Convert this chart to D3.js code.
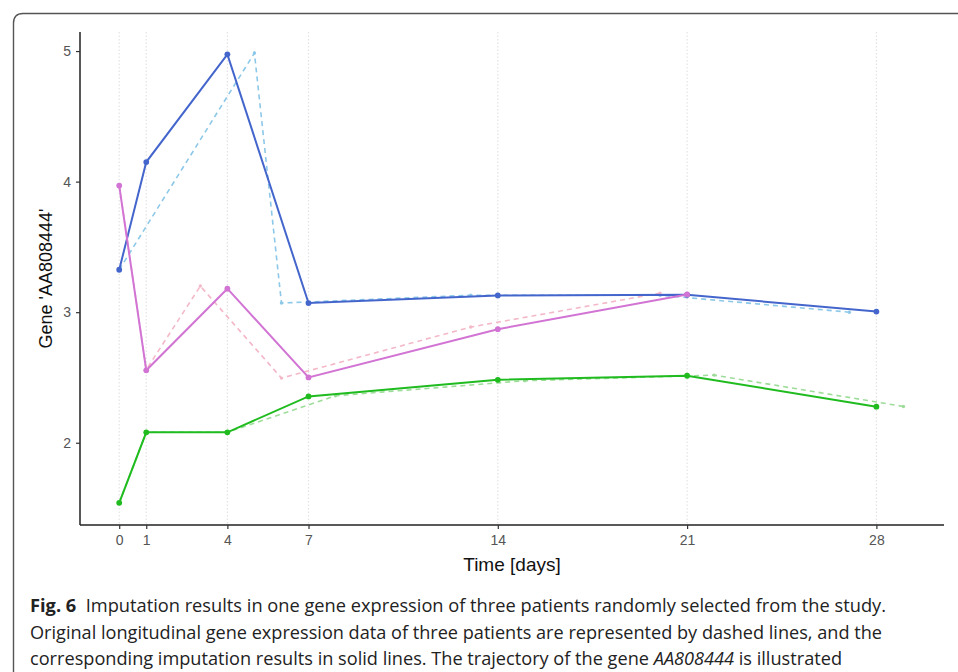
<!DOCTYPE html>
<html>
<head>
<meta charset="utf-8">
<script src="https://cdn.jsdelivr.net/npm/d3@7"></script>
<style>
  body { margin: 0; background: #fff; }
  svg { display: block; }
</style>
</head>
<body>
<div id="viz-area"></div>
<script>
// time points of the imputed (solid) trajectories
const days = [0, 1, 4, 7, 14, 21, 28];
const yTicks = [2, 3, 4, 5];

// imputation results (solid lines)
const blueImputed  = [3.325, 4.15, 4.975, 3.07, 3.128, 3.133, 3.005];
const pinkImputed  = [3.97, 2.555, 3.18, 2.50, 2.87, 3.136];      // up to day 21
const greenImputed = [1.54, 2.08, 2.08, 2.355, 2.482, 2.513, 2.276];

// original observations (dashed lines), irregular days
const blueObsDays  = [0, 5, 6, 13, 20, 27];
const blueObs      = [3.325, 4.985, 3.07, 3.13, 3.13, 3.0];
const pinkObsDays  = [0, 1, 3, 6, 13, 20];
const pinkObs      = [3.97, 2.56, 3.2, 2.495, 2.886, 3.146];
const greenObsDays = [0, 1, 4, 8, 15, 22, 29];
const greenObs     = [1.54, 2.08, 2.08, 2.36, 2.475, 2.518, 2.278];

const captionLines = [
  [{t: "Fig. 6", b: true}, {t: "  Imputation results in one gene expression of three patients randomly selected from the study."}],
  [{t: "Original longitudinal gene expression data of three patients are represented by dashed lines, and the"}],
  [{t: "corresponding imputation results in solid lines. The trajectory of the gene "}, {t: "AA808444", i: true}, {t: " is illustrated"}]
];

const W = 958, H = 672;
const PLOT = {LEFT: 80, RIGHT: 944, TOP: 32, BOTTOM: 525};

const svg = d3.select("#viz-area").append("svg")
  .attr("width", W).attr("height", H);

// figure frame (left + top border, rounded corner)
svg.append("path")
  .attr("d", "M13.5,672 L13.5,23 Q13.5,13.5 23,13.5 L958,13.5")
  .attr("fill", "none").attr("stroke", "#555").attr("stroke-width", 1.4);

const x = d3.scaleLinear().domain([-1.45, 30.5]).range([PLOT.LEFT, PLOT.RIGHT]);
const y = d3.scaleLinear().domain([1.37, 5.146]).range([PLOT.BOTTOM, PLOT.TOP]);

// dotted vertical guides at the sampling days
svg.append("g").selectAll("line")
  .data(days).enter().append("line")
  .attr("x1", d => x(d)).attr("x2", d => x(d))
  .attr("y1", PLOT.TOP).attr("y2", PLOT.BOTTOM)
  .attr("stroke", "#e3e3e3").attr("stroke-width", 1.2)
  .attr("stroke-dasharray", "1.5,2");

const line = d3.line().x(d => x(d[0])).y(d => y(d[1]));

function series(g, xs, ys, color, dashed) {
  const pts = xs.map((d, i) => [d, ys[i]]);
  g.append("path")
    .datum(pts)
    .attr("d", line)
    .attr("fill", "none")
    .attr("stroke", color)
    .attr("stroke-width", dashed ? 1.6 : 2)
    .attr("stroke-dasharray", dashed ? "5,4" : null);
  g.selectAll("circle.p").data(pts).enter().append("circle")
    .attr("cx", d => x(d[0])).attr("cy", d => y(d[1]))
    .attr("r", dashed ? 1.7 : 2.9)
    .attr("fill", color);
}

const dashG = svg.append("g");
series(dashG.append("g"), blueObsDays, blueObs, "#8cc8e8", true);
series(dashG.append("g"), pinkObsDays, pinkObs, "#f3b9c9", true);
series(dashG.append("g"), greenObsDays, greenObs, "#9edc9a", true);

const solidG = svg.append("g");
series(solidG.append("g"), days, blueImputed, "#4466cc", false);
series(solidG.append("g"), days.slice(0, pinkImputed.length), pinkImputed, "#d274d4", false);
series(solidG.append("g"), days, greenImputed, "#1fbb1f", false);

// axes
const xAxis = svg.append("g")
  .attr("transform", `translate(0,${PLOT.BOTTOM})`)
  .call(d3.axisBottom(x).tickValues(days).tickSize(4).tickSizeOuter(0).tickPadding(6));
const yAxis = svg.append("g")
  .attr("transform", `translate(${PLOT.LEFT},0)`)
  .call(d3.axisLeft(y).tickValues(yTicks).tickSize(4).tickSizeOuter(0).tickPadding(5).tickFormat(d3.format("d")));
[xAxis, yAxis].forEach(a => {
  a.attr("font-family", "'Liberation Sans', Arial, sans-serif").attr("font-size", 14);
  a.selectAll(".tick text").attr("fill", "#555");
  a.select(".domain").attr("stroke", "#222").attr("stroke-width", 1.5);
  a.selectAll(".tick line").attr("stroke", "#333").attr("stroke-width", 1.2);
});
xAxis.select(".domain").attr("d", `M${PLOT.LEFT},0H${PLOT.RIGHT}`);
yAxis.select(".domain").attr("d", `M0,${PLOT.BOTTOM}V${PLOT.TOP}`);

svg.append("text")
  .attr("x", (PLOT.LEFT + PLOT.RIGHT) / 2).attr("y", 571)
  .attr("text-anchor", "middle")
  .style("font-family", "'Liberation Sans', Arial, sans-serif")
  .style("font-size", "19px").attr("fill", "#111")
  .text("Time [days]");

svg.append("text")
  .attr("transform", `translate(52,${(PLOT.TOP + PLOT.BOTTOM) / 2}) rotate(-90)`)
  .attr("text-anchor", "middle")
  .style("font-family", "'Liberation Sans', Arial, sans-serif")
  .style("font-size", "18px").attr("fill", "#111")
  .text("Gene 'AA808444'");

// caption, each line stretched to the width it has in the figure
const capWidths = [856, 852, 812];
const capG = svg.append("g")
  .style("font-family", "'Open Sans', 'Noto Sans', sans-serif")
  .style("font-size", "17.5px").attr("fill", "#222");
captionLines.forEach((parts, i) => {
  const t = capG.append("text")
    .attr("x", 30).attr("y", 612 + i * 26.5)
    .attr("xml:space", "preserve");
  parts.forEach(p => {
    t.append("tspan")
      .attr("font-weight", p.b ? "bold" : null)
      .attr("font-style", p.i ? "italic" : null)
      .text(p.t);
  });
  t.attr("textLength", capWidths[i]).attr("lengthAdjust", "spacingAndGlyphs");
});
</script>
</body>
</html>
